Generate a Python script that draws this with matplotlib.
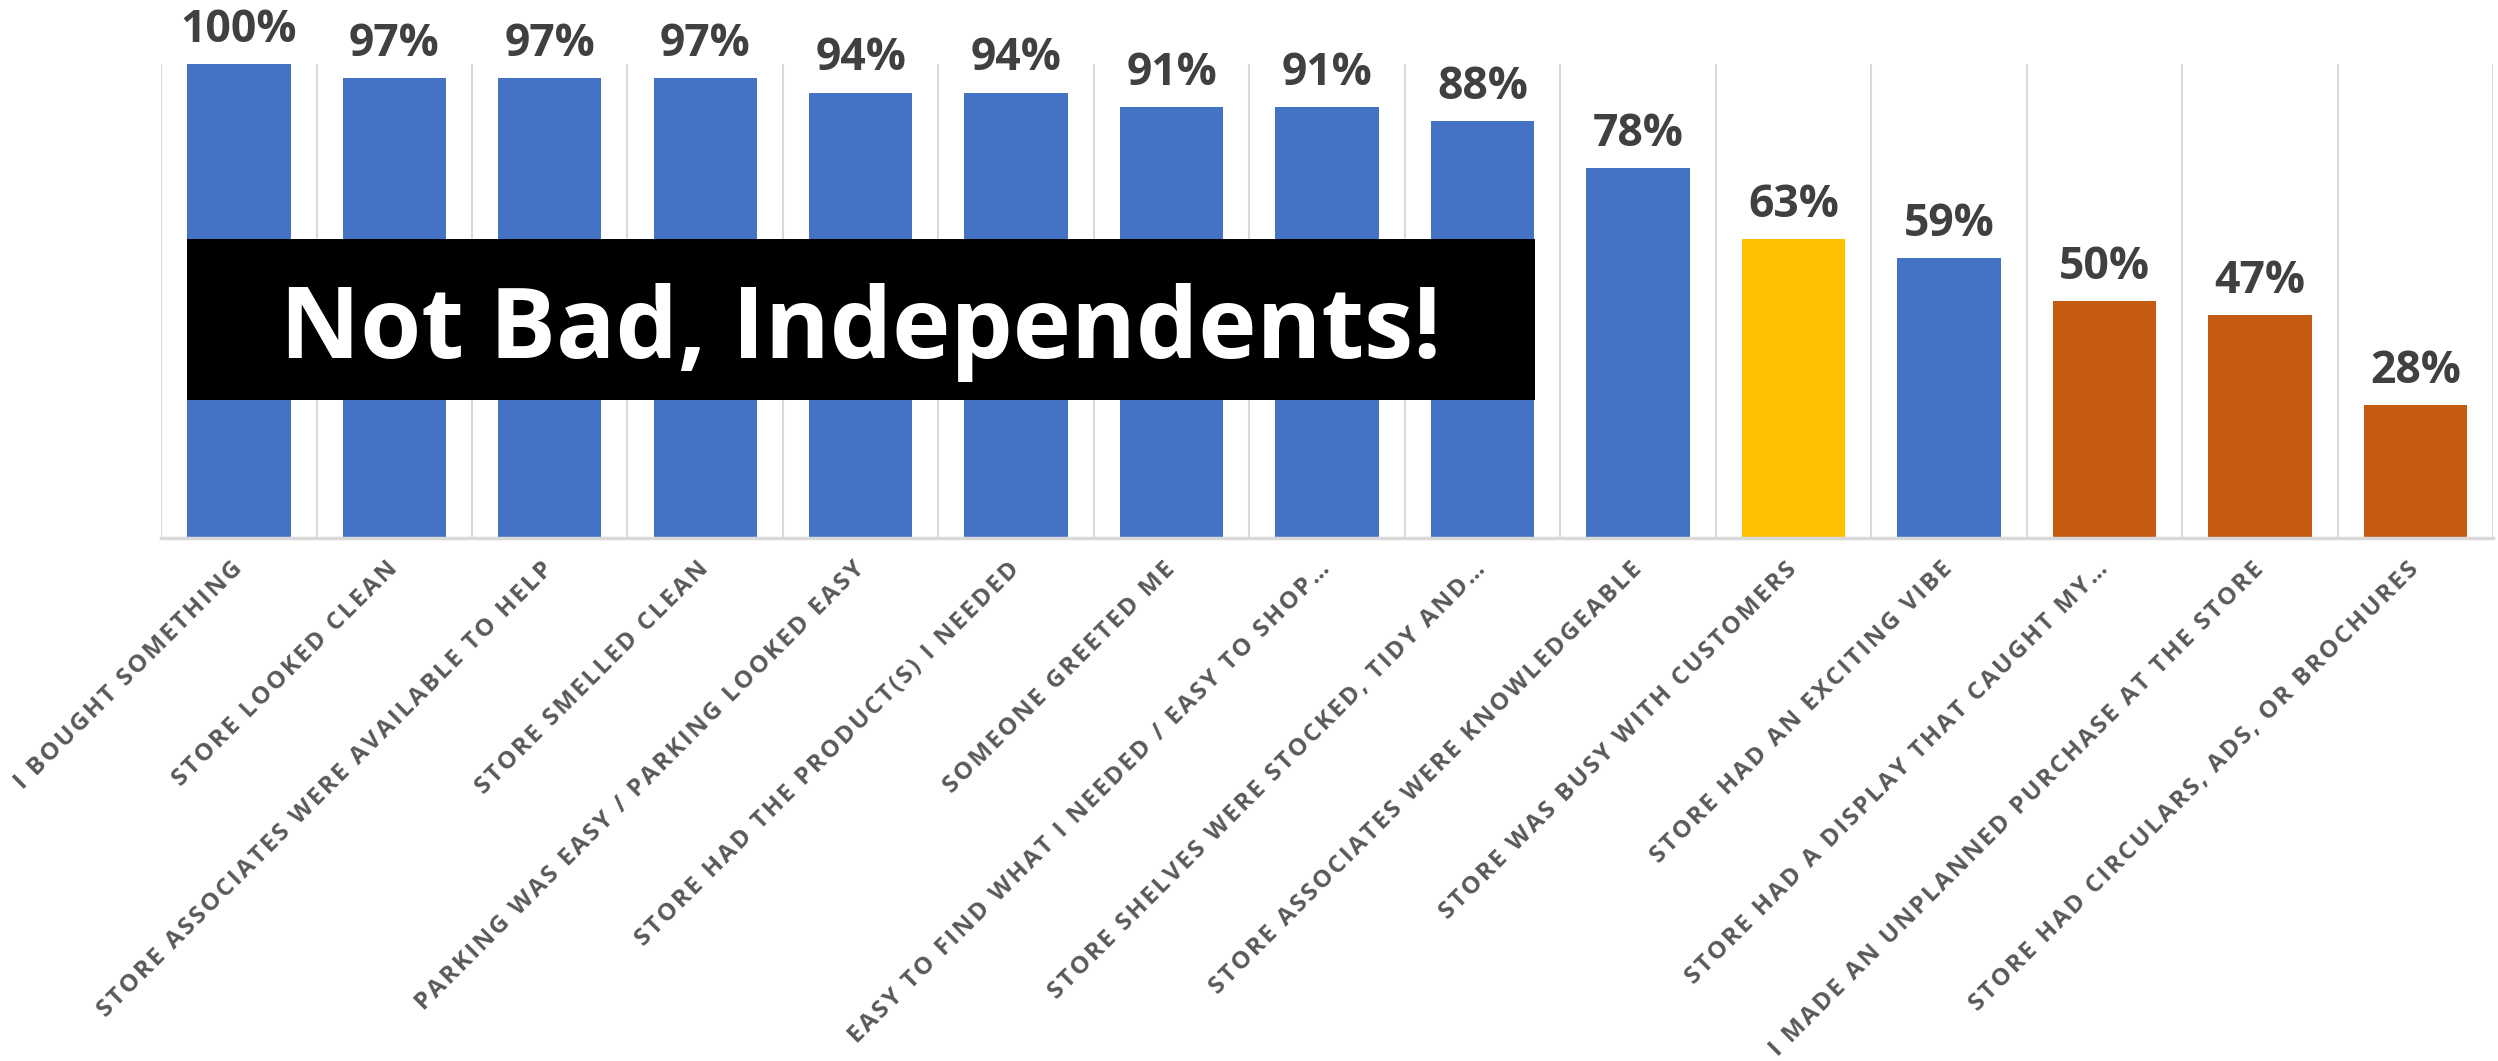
import matplotlib.pyplot as plt
from matplotlib.patches import Rectangle

# survey results, share of shoppers who agreed
categories = ["I BOUGHT SOMETHING", "STORE LOOKED CLEAN",
              "STORE ASSOCIATES WERE AVAILABLE TO HELP", "STORE SMELLED CLEAN",
              "PARKING WAS EASY / PARKING LOOKED EASY",
              "STORE HAD THE PRODUCT(S) I NEEDED", "SOMEONE GREETED ME",
              "EASY TO FIND WHAT I NEEDED / EASY TO SHOP\u2026",
              "STORE SHELVES WERE STOCKED, TIDY AND\u2026",
              "STORE ASSOCIATES WERE KNOWLEDGEABLE",
              "STORE WAS BUSY WITH CUSTOMERS", "STORE HAD AN EXCITING VIBE",
              "STORE HAD A DISPLAY THAT CAUGHT MY\u2026",
              "I MADE AN UNPLANNED PURCHASE AT THE STORE",
              "STORE HAD CIRCULARS, ADS, OR BROCHURES"]
values = [100, 97, 97, 97, 94, 94, 91, 91, 88, 78, 63, 59, 50, 47, 28]
groups = ["good"] * 10 + ["busy", "good", "low", "low", "low"]
banner_text = "Not Bad, Independents!"

colors = {"good": "#4472C4", "busy": "#FFC000", "low": "#C55A11"}

plt.rcParams['font.family'] = ['Open Sans', 'DejaVu Sans']

fig = plt.figure(figsize=(24.98, 10.61), dpi=100)
ax = fig.add_axes([0.0645, 0.4929, 0.9335, 0.4467])

x = list(range(len(values)))
fracs = [v / 100 for v in values]
ax.bar(x, fracs, width=0.665, color=[colors[g] for g in groups], zorder=2)

for xi, f, v in zip(x, fracs, values):
    ax.annotate("%d%%" % v, (xi, f), xytext=(0, 16), textcoords="offset points",
                ha="center", va="baseline", fontsize=32, fontweight="bold",
                color="#404040", annotation_clip=False)

# light separators between categories
for b in range(len(values) + 1):
    ax.axvline(b - 0.5, color="#d9d9d9", lw=1.5, zorder=1)

ax.set_xlim(-0.5, len(values) - 0.5)
ax.set_ylim(0, 1.0)
ax.set_yticks([])
for s in ["top", "right", "left"]:
    ax.spines[s].set_visible(False)
ax.spines["bottom"].set_color("#d9d9d9")
ax.spines["bottom"].set_linewidth(2.5)

# spread the letters out a bit
spaced = ["\u200a".join(c) for c in categories]
ax.set_xticks(x)
ax.set_xticklabels(spaced, rotation=45, ha="right", va="center",
                   rotation_mode="anchor", fontsize=17.5, fontweight="bold",
                   color="#595959")
ax.tick_params(axis="x", length=0, pad=20)

# banner across the first nine bars
ax.add_patch(Rectangle((-0.335, 0.291), 8.67, 0.34, facecolor="black",
                       edgecolor="none", zorder=3))
ax.text(4.0, 0.38, banner_text, ha="center", va="baseline", fontsize=71,
        fontweight="bold", color="white", zorder=4)

fig.savefig("out.png", dpi=100)
